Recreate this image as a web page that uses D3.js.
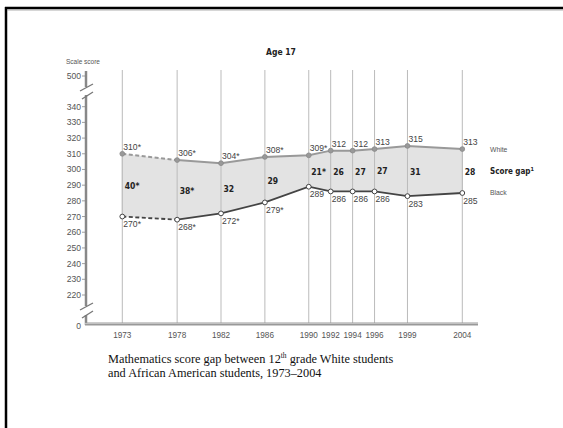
<!DOCTYPE html>
<html><head><meta charset="utf-8">
<script src="https://cdn.jsdelivr.net/npm/d3@7"></script>
<style>body{margin:0;background:#fff}svg{display:block}</style>
</head><body>
<script>
const years = [1973, 1978, 1982, 1986, 1990, 1992, 1994, 1996, 1999, 2004];
const whiteScores = [310, 306, 304, 308, 309, 312, 312, 313, 315, 313];
const blackScores = [270, 268, 272, 279, 289, 286, 286, 286, 283, 285];
const gaps = [40, 38, 32, 29, 21, 26, 27, 27, 31, 28];
const whiteSig = [true, true, true, true, true, false, false, false, false, false];
const blackSig = [true, true, true, true, false, false, false, false, false, false];
const gapSig = [true, true, false, false, true, false, false, false, false, false];
const yTicks = [500, 340, 330, 320, 310, 300, 290, 280, 270, 260, 250, 240, 230, 220, 0];

const W = 563, H = 428;
const svg = d3.select("body").append("svg").attr("width", W).attr("height", H);

// frame
svg.append("line").attr("x1",5).attr("x2",W).attr("y1",8).attr("y2",8).attr("stroke","#000").attr("stroke-width",2.5);
svg.append("line").attr("x1",6).attr("x2",6).attr("y1",7).attr("y2",H).attr("stroke","#000").attr("stroke-width",2.5);
svg.append("line").attr("x1",7).attr("x2",W).attr("y1",10).attr("y2",10).attr("stroke","#999").attr("stroke-width",0.8);

const x = d3.scaleLinear().domain([1973, 2004]).range([122.3, 462.3]);
const y = d3.scaleLinear().domain([0, 220, 340, 500]).range([324, 295, 106.7, 76]);

const axisX = 86;
const lf = "'Liberation Sans', Arial, sans-serif";
const bf = "'DejaVu Sans Condensed', 'DejaVu Sans'";

// title
svg.append("text").attr("x", 281).attr("y", 55).attr("text-anchor","middle")
  .attr("font-family",bf).attr("font-weight","bold")
  .attr("font-size", 8.5).attr("fill","#222").text("Age 17");
svg.append("text").attr("x", 66).attr("y", 64).attr("font-family",lf)
  .attr("font-size", 6.5).attr("fill","#555").text("Scale score");

// vertical grid lines
svg.append("g").selectAll("line").data(years).join("line")
  .attr("x1", d => x(d)).attr("x2", d => x(d)).attr("y1", 70).attr("y2", 324)
  .attr("stroke", "#bbb").attr("stroke-width", 1);

// area between
const pts = years.map((yr,i)=>({yr, w: whiteScores[i], b: blackScores[i]}));
svg.append("path").datum(pts)
  .attr("d", d3.area().x(d=>x(d.yr)).y0(d=>y(d.b)).y1(d=>y(d.w)))
  .attr("fill", "#e3e3e3");
svg.append("g").selectAll("line").data(years).join("line")
  .attr("x1", d => x(d)).attr("x2", d => x(d))
  .attr("y1", (d,i) => y(whiteScores[i])).attr("y2", (d,i) => y(blackScores[i]))
  .attr("stroke", "#bbb").attr("stroke-width", 1);

// y axis with breaks
const ax = svg.append("g").attr("stroke","#888").attr("stroke-width",2.5);
ax.append("line").attr("x1",axisX).attr("x2",axisX).attr("y1",71).attr("y2",87);
ax.append("line").attr("x1",axisX).attr("x2",axisX).attr("y1",95).attr("y2",306);
ax.append("line").attr("x1",axisX).attr("x2",axisX).attr("y1",315).attr("y2",325);
const br = svg.append("g").attr("stroke","#777").attr("stroke-width",1.3);
br.append("line").attr("x1",80).attr("y1",91).attr("x2",93).attr("y2",84);
br.append("line").attr("x1",82).attr("y1",99).attr("x2",93).attr("y2",92);
br.append("line").attr("x1",80).attr("y1",310).attr("x2",93).attr("y2",303);
br.append("line").attr("x1",82).attr("y1",318).attr("x2",93).attr("y2",311);

// x axis
svg.append("line").attr("x1",axisX-1).attr("x2",478).attr("y1",324).attr("y2",324)
  .attr("stroke","#999").attr("stroke-width",3);
svg.append("line").attr("x1",axisX-1).attr("x2",478).attr("y1",323.5).attr("y2",323.5)
  .attr("stroke","#ccc").attr("stroke-width",0.8);

// y ticks
const yt = svg.append("g");
yt.selectAll("line").data(yTicks.filter(d=>d!==0)).join("line")
  .attr("x1",82).attr("x2",axisX).attr("y1",d=>y(d)).attr("y2",d=>y(d))
  .attr("stroke","#888").attr("stroke-width",0.8);
yt.selectAll("text").data(yTicks).join("text")
  .attr("x", 81).attr("y", d => d===0 ? y(d)+4.5 : y(d)+3)
  .attr("text-anchor","end").attr("font-family",lf)
  .attr("font-size",8.6).attr("fill","#555").text(d=>d);

// x tick labels
svg.append("g").selectAll("text").data(years).join("text")
  .attr("x", d=>x(d)).attr("y", 337.5).attr("text-anchor","middle")
  .attr("font-family",lf).attr("font-size",8.2).attr("fill","#555")
  .text(d=>d);

// lines
const lw = d3.line().x(d=>x(d.yr)).y(d=>y(d.w));
const lb = d3.line().x(d=>x(d.yr)).y(d=>y(d.b));
svg.append("path").datum(pts.slice(0,2)).attr("d", lw).attr("fill","none")
  .attr("stroke","#999").attr("stroke-width",2).attr("stroke-dasharray","4,2.5");
svg.append("path").datum(pts.slice(1)).attr("d", lw).attr("fill","none")
  .attr("stroke","#999").attr("stroke-width",2);
svg.append("path").datum(pts.slice(0,2)).attr("d", lb).attr("fill","none")
  .attr("stroke","#444").attr("stroke-width",1.8).attr("stroke-dasharray","4,2.5");
svg.append("path").datum(pts.slice(1)).attr("d", lb).attr("fill","none")
  .attr("stroke","#444").attr("stroke-width",1.8);

// points
svg.append("g").selectAll("circle").data(pts).join("circle")
  .attr("cx", d=>x(d.yr)).attr("cy", d=>y(d.w)).attr("r",2.4)
  .attr("fill","#999").attr("stroke","#888").attr("stroke-width",0.8);
svg.append("g").selectAll("circle").data(pts).join("circle")
  .attr("cx", d=>x(d.yr)).attr("cy", d=>y(d.b)).attr("r",2.4)
  .attr("fill","#fff").attr("stroke","#444").attr("stroke-width",1);

// value labels
svg.append("g").selectAll("text").data(pts).join("text")
  .attr("x", d=>x(d.yr)+1).attr("y", d=>y(d.w)-4)
  .attr("font-family",lf).attr("font-size",8.6).attr("fill","#444")
  .text((d,i)=> d.w + (whiteSig[i] ? "*" : ""));
svg.append("g").selectAll("text").data(pts).join("text")
  .attr("x", d=>x(d.yr)+1).attr("y", d=>y(d.b)+10.5)
  .attr("font-family",lf).attr("font-size",8.6).attr("fill","#444")
  .text((d,i)=> d.b + (blackSig[i] ? "*" : ""));
svg.append("g").selectAll("text").data(pts).join("text")
  .attr("x", d=>x(d.yr)+2.5).attr("y", d=>y((d.w+d.b)/2)+4)
  .attr("font-family",bf).attr("font-weight","bold")
  .attr("font-size",8.5).attr("fill","#222")
  .text((d,i)=> gaps[i] + (gapSig[i] ? "*" : ""));

// legend
svg.append("text").attr("x",490).attr("y",y(whiteScores[9])+2.5)
  .attr("font-family",lf).attr("font-size",6.8).attr("fill","#555").text("White");
svg.append("text").attr("x",490).attr("y",y(blackScores[9])+1.5)
  .attr("font-family",lf).attr("font-size",6.8).attr("fill","#555").text("Black");
const sg = svg.append("text").attr("x",490).attr("y",174)
  .attr("font-family",bf).attr("font-weight","bold")
  .attr("font-size",8).attr("fill","#222");
sg.append("tspan").text("Score gap");
sg.append("tspan").attr("font-size",5.5).attr("dy",-3.5).text("1");

// caption
const cf = "'Liberation Serif', 'Times New Roman', serif";
const c1 = svg.append("text").attr("x",108).attr("y",363).attr("font-family",cf)
  .attr("font-size",12.3).attr("fill","#111");
c1.append("tspan").text("Mathematics score gap between 12");
c1.append("tspan").attr("font-size",7.5).attr("dy",-5).text("th");
c1.append("tspan").attr("dy",5).text(" grade White students");
svg.append("text").attr("x",108).attr("y",377).attr("font-family",cf)
  .attr("font-size",12.3).attr("fill","#111").text("and African American students, 1973–2004");
</script>
</body></html>
